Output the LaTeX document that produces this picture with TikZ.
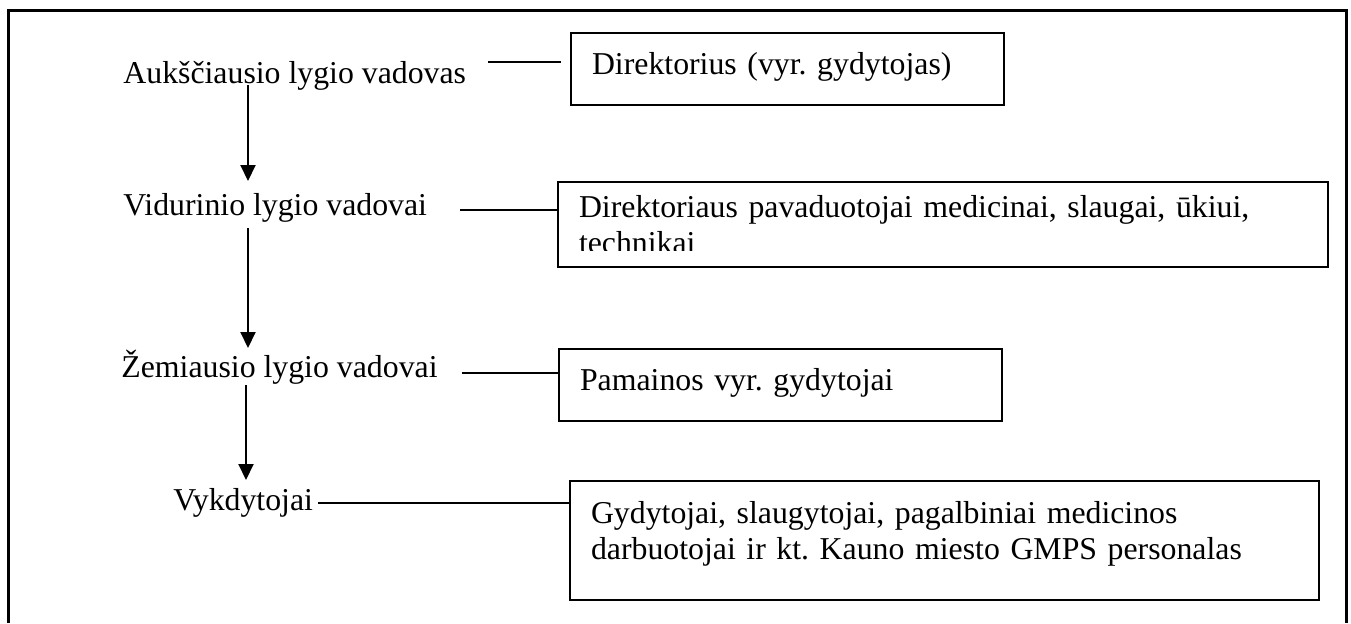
\documentclass[tikz,border=0pt]{standalone}
\usepackage{fontspec}
\setmainfont{Liberation Serif}
\usepackage{tikz}
\usetikzlibrary{positioning}
\usetikzlibrary{calc,arrows.meta}
\frenchspacing

\begin{document}
\begin{tikzpicture}[x=0.5pt, y=-0.5pt,
    font=\fontsize{15.9pt}{18pt}\selectfont,
    level/.style={inner sep=0pt, anchor=base west},
    box/.style={rectangle, anchor=north west, outer sep=0pt, inner ysep=0pt,
                inner xsep=10.5pt, align=left, line width=1.2pt},
    link/.style={line width=1pt},
    arrow/.style={line width=1pt, -{Triangle[width=7.5pt, length=8pt]}}]
    \useasboundingbox (0,0) rectangle (1351,623);
    % Frame
    \draw [line width=1.5pt] (8,623) -- (8,10) -- (1346,10) -- (1346,623);
    \coordinate (axis) at (248,0);

    % Nodes
    \node [level] (lvl1) at (123,83) {Aukščiausio lygio vadovas};
    \node [level] (lvl2) at (123,215) {Vidurinio lygio vadovai};
    \node [level] (lvl3) at (121,377) {Žemiausio lygio vadovai};
    \node [level] (lvl4) at (173,510) {Vykdytojai};

    \node [box, draw, text width=195.5pt, text height=20.5pt, text depth=15.5pt] (box1) at (571,33) {Direktorius (vyr. gydytojas)};
    \begin{scope}
      \clip (558,182) rectangle (1328,250);
      \node [box, text width=364pt, text height=17.5pt, text depth=25pt] (box2) at (558,182) {Direktoriaus pavaduotojai medicinai, slaugai, ūkiui,\\technikai};
    \end{scope}
    \draw [line width=1.2pt] (box2.north west) rectangle (box2.south east);
    \node [box, draw, text width=200.5pt, text height=20.5pt, text depth=15.5pt] (box3) at (559,349) {Pamainos vyr. gydytojai};
    \node [box, draw, text width=353.5pt, text height=21pt, text depth=38.5pt] (box4) at (570,481) {Gydytojai, slaugytojai, pagalbiniai medicinos\\darbuotojai ir kt. Kauno miesto GMPS personalas};

    % Lines
    \draw [link] ($(lvl1.base east)+(22,-21)$) -- ($(lvl1.base -| box1.west)+(-10,-21)$);
    \draw [link] ($(lvl2.base east)+(33,-5)$) -- ($(lvl2.base -| box2.west)+(0,-5)$);
    \draw [link] ($(lvl3.base east)+(24,-4)$) -- ($(lvl3.base -| box3.west)+(0,-4)$);
    \draw [link] ($(lvl4.base east)+(5,-7)$) -- ($(lvl4.base -| box4.west)+(0,-7)$);

    % Arrows
    \draw [arrow] ($(lvl1.base -| axis)+(0,2)$) -- ($(lvl2.base -| axis)+(0,-34)$);
    \draw [arrow] ($(lvl2.base -| axis)+(0,13)$) -- ($(lvl3.base -| axis)+(0,-29)$);
    \draw [arrow] ($(lvl3.base -| axis)+(-2,8)$) -- ($(lvl4.base -| axis)+(-2,-30)$);
\end{tikzpicture}
\end{document}
